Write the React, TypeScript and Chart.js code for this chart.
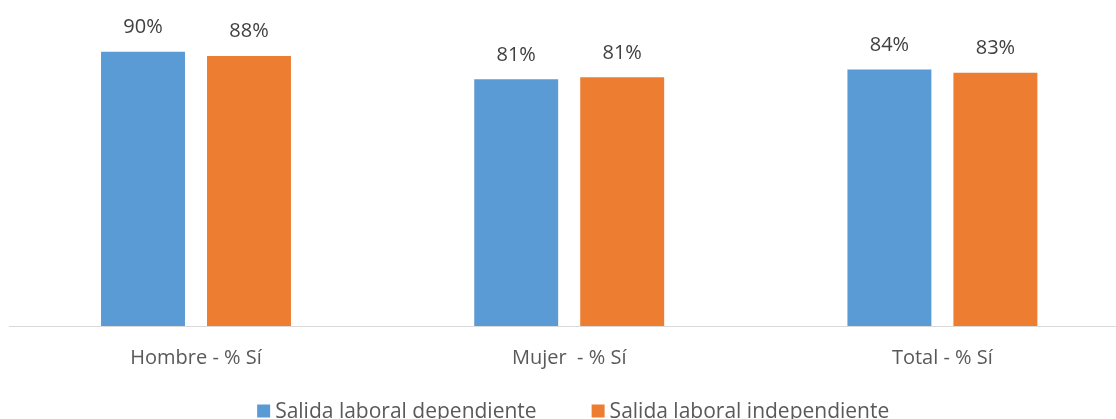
import React, { useEffect, useRef } from "react";
import { Chart, registerables } from "chart.js";

Chart.register(...registerables);

const categories = ["Hombre - % Sí", "Mujer  - % Sí", "Total - % Sí"];
const seriesNames = ["Salida laboral dependiente", "Salida laboral independiente"];
const dependiente = [89.8, 80.8, 84.0];
const independiente = [88.4, 81.4, 82.9];
const seriesColors = ["#5B9BD5", "#ED7D31"];
const yMin = 0;
const yMax = 100;

const FONT = "'Open Sans', 'DejaVu Sans', sans-serif";

const dataLabelPlugin = {
  id: "dataLabels",
  afterDatasetsDraw(chart: any) {
    const ctx = chart.ctx;
    ctx.save();
    ctx.font = `20px ${FONT}`;
    ctx.fillStyle = "#404040";
    ctx.textAlign = "center";
    ctx.textBaseline = "alphabetic";
    chart.data.datasets.forEach((ds: any, i: number) => {
      const meta = chart.getDatasetMeta(i);
      meta.data.forEach((el: any, j: number) => {
        const v = ds.data[j];
        ctx.fillText(`${Math.round(v)}%`, el.x, el.y - 18.5);
      });
    });
    ctx.restore();
  },
};

// Bottom legend drawn from the datasets (label + colour)
const bottomLegendPlugin = {
  id: "bottomLegend",
  afterDraw(chart: any) {
    const ctx = chart.ctx;
    const box = 13;
    const boxGap = 5;
    const itemGap = 55;
    const baseline = 417.5;
    ctx.save();
    ctx.font = `21px ${FONT}`;
    const items = chart.data.datasets.map((ds: any) => ({
      text: ds.label,
      color: ds.backgroundColor,
      w: ctx.measureText(ds.label).width,
    }));
    const total =
      items.reduce((s: number, it: any) => s + box + boxGap + it.w, 0) +
      itemGap * (items.length - 1);
    const center = (chart.chartArea.left + chart.chartArea.right) / 2 + 4;
    let x = center - total / 2;
    ctx.textAlign = "left";
    ctx.textBaseline = "alphabetic";
    items.forEach((it: any) => {
      ctx.fillStyle = it.color;
      ctx.fillRect(x, baseline - box, box, box);
      ctx.fillStyle = "#595959";
      ctx.fillText(it.text, x + box + boxGap, baseline);
      x += box + boxGap + it.w + itemGap;
    });
    ctx.restore();
  },
};

export default function App() {
  const canvasRef = useRef<HTMLCanvasElement | null>(null);

  useEffect(() => {
    const canvas = canvasRef.current;
    if (!canvas) return;
    const chart = new Chart(canvas, {
      type: "bar",
      data: {
        labels: categories,
        datasets: [
          {
            label: seriesNames[0],
            data: dependiente,
            backgroundColor: seriesColors[0],
            categoryPercentage: 0.568,
            barPercentage: 0.792,
          },
          {
            label: seriesNames[1],
            data: independiente,
            backgroundColor: seriesColors[1],
            categoryPercentage: 0.568,
            barPercentage: 0.792,
          },
        ],
      },
      options: {
        animation: false,
        responsive: false,
        maintainAspectRatio: false,
        layout: { padding: { left: 9.4, right: 11, top: 20.5, bottom: 40 } },
        plugins: {
          tooltip: { enabled: false },
          title: { display: false },
          legend: { display: false },
        },
        scales: {
          x: {
            grid: { display: false, drawTicks: false },
            border: { display: true, color: "#d9d9d9", width: 1 },
            ticks: {
              color: "#595959",
              font: { family: FONT, size: 20 },
              padding: 20.5,
              maxRotation: 0,
              autoSkip: false,
            },
          },
          y: {
            display: false,
            min: yMin,
            max: yMax,
          },
        },
      },
      plugins: [dataLabelPlugin, bottomLegendPlugin],
    });
    return () => chart.destroy();
  }, []);

  return (
    <div
      style={{
        position: "absolute",
        left: 0,
        top: 0,
        width: 1116,
        height: 419,
        overflow: "hidden",
        background: "#ffffff",
      }}
    >
      <canvas ref={canvasRef} width={1140} height={431} style={{ display: "block" }} />
    </div>
  );
}
